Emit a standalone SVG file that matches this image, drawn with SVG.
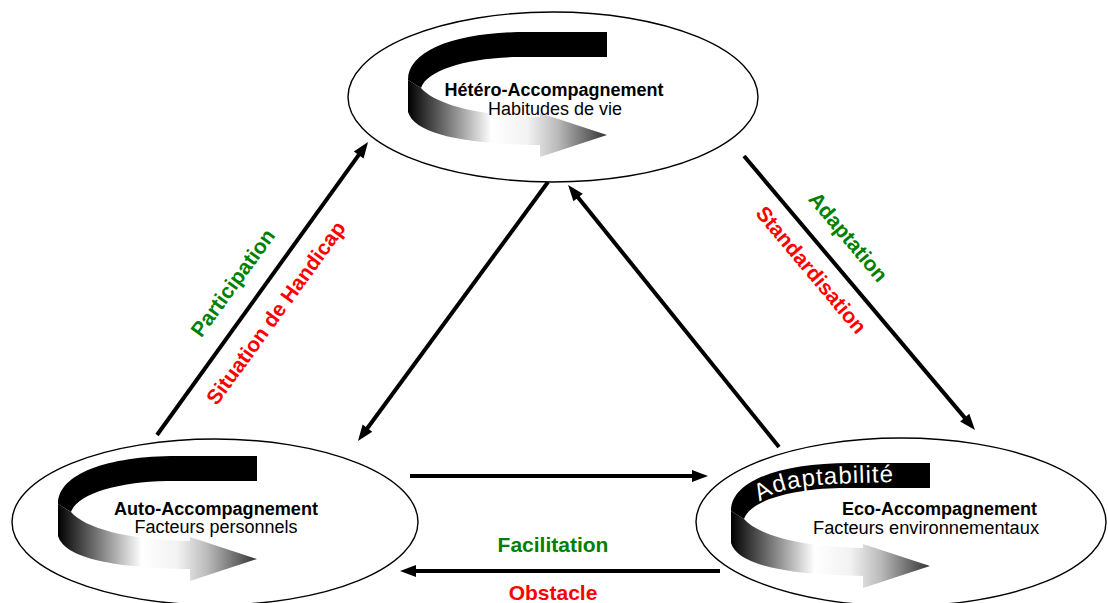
<svg xmlns="http://www.w3.org/2000/svg" xmlns:xlink="http://www.w3.org/1999/xlink" width="1108" height="603" viewBox="0 0 1108 603">
<style>
.ell{fill:#fff;stroke:#000;stroke-width:1.4}
.t1{font-family:"Liberation Sans",Arial,sans-serif;font-weight:bold;font-size:18px;fill:#000}
.t2{font-family:"Liberation Sans",Arial,sans-serif;font-size:18px;fill:#000}
.lbl{font-family:"Liberation Sans",Arial,sans-serif;font-weight:bold;font-size:21px}
.g{fill:#008000}
.r{fill:#ff0000}
.con{stroke:#000;stroke-width:4;fill:none;marker-end:url(#ah)}
</style>
<defs>
<marker id="ah" markerUnits="strokeWidth" markerWidth="4" markerHeight="3" refX="1.2" refY="1.5" orient="auto" overflow="visible">
<path d="M0,0 L4,1.5 L0,3 Z" fill="#000"/>
</marker>
<linearGradient id="rg" gradientUnits="userSpaceOnUse" x1="-199" y1="0" x2="0" y2="0">
<stop offset="0" stop-color="#000"/>
<stop offset="0.2" stop-color="#777"/>
<stop offset="0.42" stop-color="#fff"/>
<stop offset="0.6" stop-color="#f2f2f2"/>
<stop offset="0.75" stop-color="#bbb"/>
<stop offset="1" stop-color="#333"/>
</linearGradient>
<g id="ribbon">
<path d="M0,0 L-80,0 C-150,0 -199,18 -199,48 L-186,56 C-180,38 -140,26 -90,25 L0,25 Z" fill="#000"/>
<path d="M-199,48 L-199,80 C-192,103 -140,112 -67,113 L-67,125 L0,103 L-67,81 L-67,85 C-130,84 -172,72 -186,56 Z" fill="url(#rg)"/>
</g>
<path id="adp" d="M760,502 C778,487 812,482 925,482"/>
</defs>

<g id="connectors">
<line class="con" x1="157" y1="435" x2="361.5" y2="151.1"/>
<line class="con" x1="548" y1="182" x2="364.6" y2="432"/>
<line class="con" x1="779" y1="447" x2="575.1" y2="193.7"/>
<line class="con" x1="744" y1="156" x2="967.8" y2="421.4"/>
<line class="con" x1="410" y1="476" x2="696.8" y2="476"/>
<line class="con" x1="720" y1="571" x2="411.2" y2="571"/>
</g>

<g id="node-hetero">
<ellipse class="ell" cx="553" cy="97" rx="205" ry="85"/>
<use xlink:href="#ribbon" transform="translate(607,32)"/>
<text class="t1" x="554" y="96" text-anchor="middle" textLength="219" lengthAdjust="spacingAndGlyphs">Hétéro-Accompagnement</text>
<text class="t2" x="555" y="115" text-anchor="middle" textLength="134" lengthAdjust="spacingAndGlyphs">Habitudes de vie</text>
</g>

<g id="node-auto">
<ellipse class="ell" cx="215" cy="522" rx="203" ry="83"/>
<use xlink:href="#ribbon" transform="translate(257,456)"/>
<text class="t1" x="216" y="515" text-anchor="middle" textLength="204" lengthAdjust="spacingAndGlyphs">Auto-Accompagnement</text>
<text class="t2" x="216" y="533" text-anchor="middle" textLength="163" lengthAdjust="spacingAndGlyphs">Facteurs personnels</text>
</g>

<g id="node-eco">
<ellipse class="ell" cx="901" cy="522" rx="205" ry="84"/>
<use xlink:href="#ribbon" transform="translate(930,463)"/>
<text font-family="'Liberation Sans',Arial,sans-serif" font-size="24" fill="#fff" letter-spacing="1"><textPath xlink:href="#adp">Adaptabilité</textPath></text>
<text class="t1" x="1037" y="515" text-anchor="end" textLength="195" lengthAdjust="spacingAndGlyphs">Eco-Accompagnement</text>
<text class="t2" x="1039" y="534" text-anchor="end" textLength="226" lengthAdjust="spacingAndGlyphs">Facteurs environnementaux</text>
</g>

<g id="labels">
<text class="lbl g" transform="translate(233,283) rotate(-54)" x="0" y="7" text-anchor="middle">Participation</text>
<text class="lbl r" transform="translate(276,313) rotate(-54)" x="0" y="7" text-anchor="middle">Situation de Handicap</text>
<text class="lbl g" transform="translate(848,237) rotate(50)" x="0" y="7" text-anchor="middle">Adaptation</text>
<text class="lbl r" transform="translate(811,270) rotate(50)" x="0" y="7" text-anchor="middle">Standardisation</text>
<text class="lbl g" x="553" y="552" text-anchor="middle">Facilitation</text>
<text class="lbl r" x="553" y="600" text-anchor="middle">Obstacle</text>
</g>
</svg>
